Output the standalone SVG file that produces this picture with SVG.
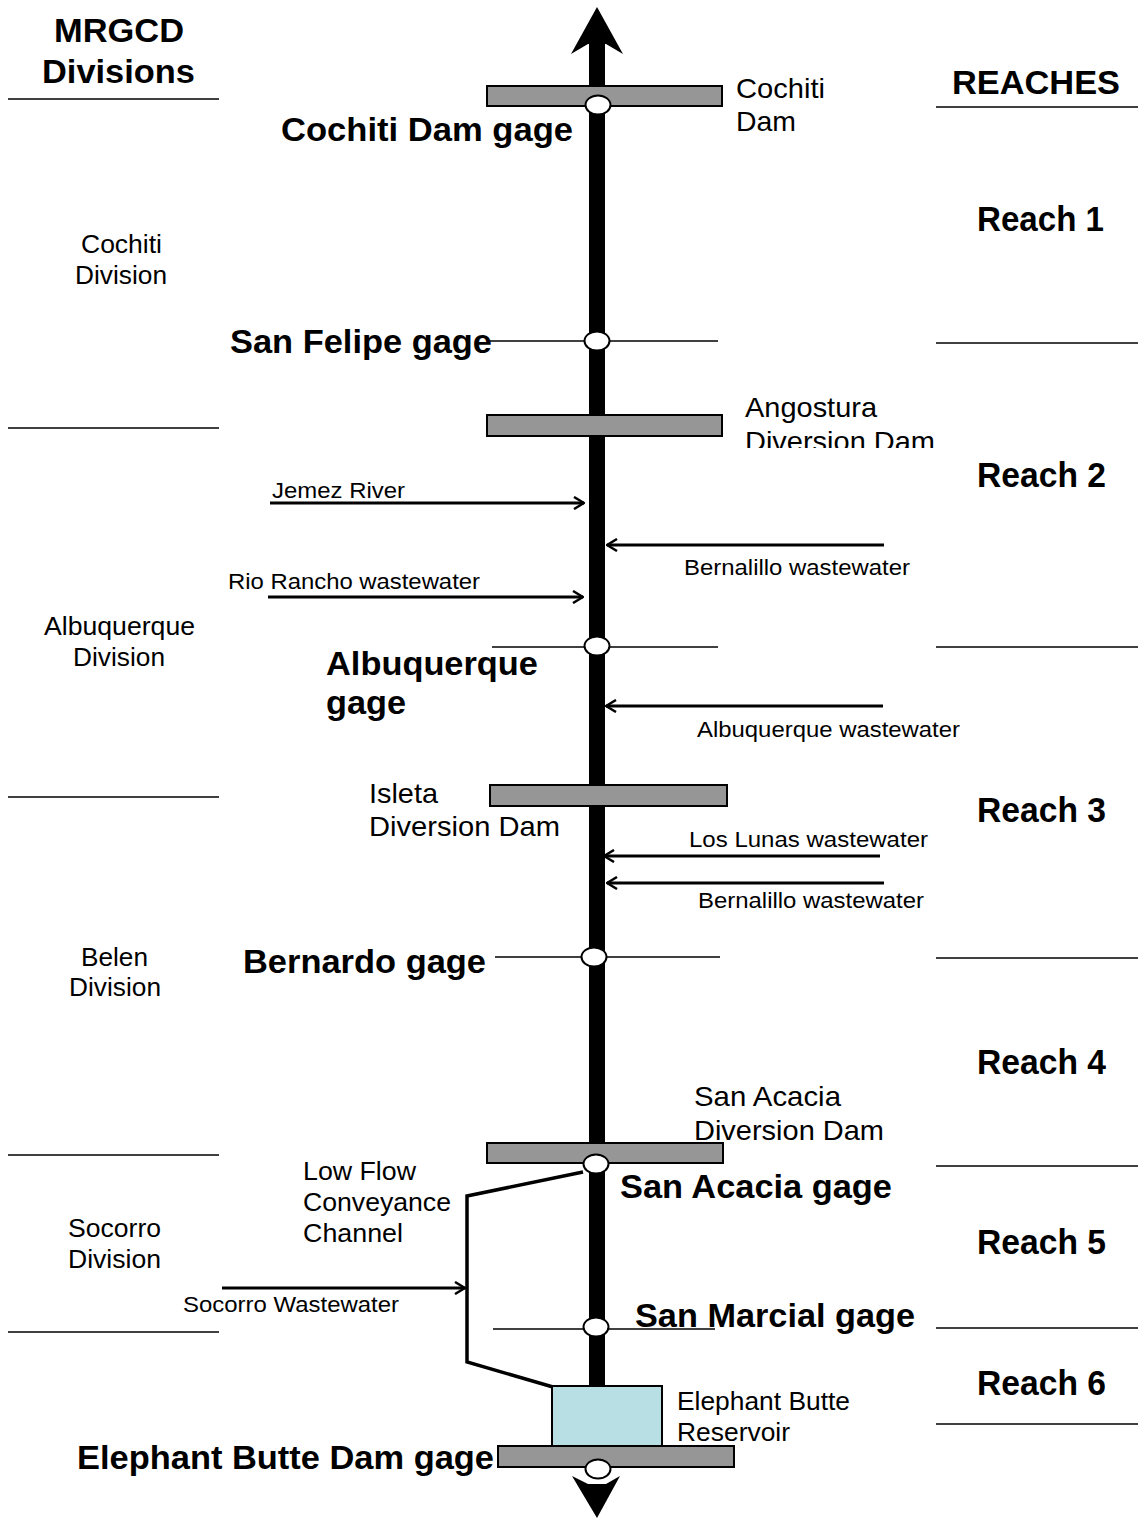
<svg xmlns="http://www.w3.org/2000/svg" width="1138" height="1519" viewBox="0 0 1138 1519">
  <style>
    text { font-family: "Liberation Sans", Arial, sans-serif; fill: #000; }
    .hdr { font-size: 34px; font-weight: bold; }
    .gage { font-size: 34px; font-weight: bold; }
    .reach { font-size: 35px; font-weight: bold; }
    .lbl { font-size: 28px; }
    .lbl2 { font-size: 26.5px; }
    .div { font-size: 25.5px; }
    .sm { font-size: 22px; }
    .rule { stroke: #000; stroke-width: 1.5; fill: none; }
    .trib { stroke: #000; stroke-width: 3; fill: none; marker-end: url(#open); }
    .dam { fill: #969696; stroke: #000; stroke-width: 2; }
    .gauge { fill: #fff; stroke: #000; stroke-width: 2; }
  </style>
  <defs>
    <marker id="open" viewBox="0 0 12 14" refX="11" refY="7" markerWidth="12" markerHeight="14" markerUnits="userSpaceOnUse" orient="auto">
      <path d="M1,1 L11,7 L1,13" fill="none" stroke="#000" stroke-width="2.5"/>
    </marker>
    <clipPath id="clipAng"><rect x="700" y="380" width="300" height="68"/></clipPath>
    <clipPath id="clipSA"><rect x="650" y="1070" width="300" height="71"/></clipPath>
  </defs>

  <!-- column headers and boundary rules -->
  <g id="headers">
    <text class="hdr" x="54" y="42" textLength="130" lengthAdjust="spacingAndGlyphs">MRGCD</text>
    <text class="hdr" x="42" y="83" textLength="153" lengthAdjust="spacingAndGlyphs">Divisions</text>
    <text class="hdr" x="952" y="94" textLength="168" lengthAdjust="spacingAndGlyphs">REACHES</text>
  </g>
  <g id="division-rules">
    <line class="rule" x1="8" y1="99" x2="219" y2="99"/>
    <line class="rule" x1="8" y1="428" x2="219" y2="428"/>
    <line class="rule" x1="8" y1="797" x2="219" y2="797"/>
    <line class="rule" x1="8" y1="1155" x2="219" y2="1155"/>
    <line class="rule" x1="8" y1="1332" x2="219" y2="1332"/>
  </g>
  <g id="reach-rules">
    <line class="rule" x1="936" y1="107" x2="1138" y2="107"/>
    <line class="rule" x1="936" y1="343" x2="1138" y2="343"/>
    <line class="rule" x1="936" y1="647" x2="1138" y2="647"/>
    <line class="rule" x1="936" y1="958" x2="1138" y2="958"/>
    <line class="rule" x1="936" y1="1166" x2="1138" y2="1166"/>
    <line class="rule" x1="936" y1="1328" x2="1138" y2="1328"/>
    <line class="rule" x1="936" y1="1424" x2="1138" y2="1424"/>
  </g>

  <!-- division names -->
  <g id="divisions">
    <text class="div" x="81" y="253" textLength="81" lengthAdjust="spacingAndGlyphs">Cochiti</text>
    <text class="div" x="75" y="284" textLength="92" lengthAdjust="spacingAndGlyphs">Division</text>
    <text class="div" x="44" y="635" textLength="151" lengthAdjust="spacingAndGlyphs">Albuquerque</text>
    <text class="div" x="73" y="666" textLength="92" lengthAdjust="spacingAndGlyphs">Division</text>
    <text class="div" x="81" y="966" textLength="67" lengthAdjust="spacingAndGlyphs">Belen</text>
    <text class="div" x="69" y="996" textLength="92" lengthAdjust="spacingAndGlyphs">Division</text>
    <text class="div" x="68" y="1237" textLength="93" lengthAdjust="spacingAndGlyphs">Socorro</text>
    <text class="div" x="68" y="1268" textLength="93" lengthAdjust="spacingAndGlyphs">Division</text>
  </g>

  <!-- reach names -->
  <g id="reaches">
    <text class="reach" x="977" y="231" textLength="127" lengthAdjust="spacingAndGlyphs">Reach 1</text>
    <text class="reach" x="977" y="487" textLength="129" lengthAdjust="spacingAndGlyphs">Reach 2</text>
    <text class="reach" x="977" y="822" textLength="129" lengthAdjust="spacingAndGlyphs">Reach 3</text>
    <text class="reach" x="977" y="1074" textLength="129" lengthAdjust="spacingAndGlyphs">Reach 4</text>
    <text class="reach" x="977" y="1254" textLength="129" lengthAdjust="spacingAndGlyphs">Reach 5</text>
    <text class="reach" x="977" y="1395" textLength="129" lengthAdjust="spacingAndGlyphs">Reach 6</text>
  </g>

  <!-- river, tributaries and conveyance channel -->
  <g id="connectors">
    <line x1="597" y1="40" x2="597" y2="1388" stroke="#000" stroke-width="16"/>
    <polygon points="597,7 623,54 606,44 588,44 571,54" fill="#000"/>
    <polygon points="597,1518 620,1476 606,1484 588,1484 572,1476" fill="#000"/>
    <line class="rule" x1="490" y1="341" x2="718" y2="341"/>
    <line class="rule" x1="492" y1="647" x2="718" y2="647"/>
    <line class="rule" x1="495" y1="957" x2="720" y2="957"/>
    <line class="rule" x1="493" y1="1329" x2="715" y2="1329"/>
    <line class="trib" x1="270" y1="503" x2="584" y2="503"/>
    <line class="trib" x1="268" y1="597" x2="583" y2="597"/>
    <line class="trib" x1="884" y1="545" x2="607" y2="545"/>
    <line class="trib" x1="883" y1="706" x2="606" y2="706"/>
    <line class="trib" x1="880" y1="856" x2="604" y2="856"/>
    <line class="trib" x1="884" y1="883" x2="607" y2="883"/>
    <line class="trib" x1="222" y1="1288" x2="465" y2="1288"/>
    <polyline points="583,1172 467,1196 467,1362 553,1387" fill="none" stroke="#000" stroke-width="3.5"/>
  </g>

  <!-- dams and reservoir -->
  <g id="cochiti-dam">
    <rect class="dam" x="487" y="86" width="235" height="20"/>
    <text class="lbl" x="736" y="98" textLength="89" lengthAdjust="spacingAndGlyphs">Cochiti</text>
    <text class="lbl" x="736" y="131" textLength="60" lengthAdjust="spacingAndGlyphs">Dam</text>
  </g>
  <g id="angostura-dam">
    <rect class="dam" x="487" y="415" width="235" height="21"/>
    <g clip-path="url(#clipAng)">
      <text class="lbl" x="745" y="417" textLength="132" lengthAdjust="spacingAndGlyphs">Angostura</text>
      <text class="lbl" x="745" y="451" textLength="190" lengthAdjust="spacingAndGlyphs">Diversion Dam</text>
    </g>
  </g>
  <g id="isleta-dam">
    <rect class="dam" x="490" y="785" width="237" height="21"/>
    <text class="lbl" x="369" y="803" textLength="69" lengthAdjust="spacingAndGlyphs">Isleta</text>
    <text class="lbl" x="369" y="836" textLength="191" lengthAdjust="spacingAndGlyphs">Diversion Dam</text>
  </g>
  <g id="san-acacia-dam">
    <rect class="dam" x="487" y="1143" width="236" height="20"/>
    <g clip-path="url(#clipSA)">
      <text class="lbl" x="694" y="1106" textLength="147" lengthAdjust="spacingAndGlyphs">San Acacia</text>
      <text class="lbl" x="694" y="1140" textLength="190" lengthAdjust="spacingAndGlyphs">Diversion Dam</text>
    </g>
  </g>
  <g id="elephant-butte-reservoir">
    <rect x="552" y="1386" width="110" height="60" fill="#b8e0e4" stroke="#000" stroke-width="2"/>
    <text class="lbl2" x="677" y="1410" textLength="173" lengthAdjust="spacingAndGlyphs">Elephant Butte</text>
    <text class="lbl2" x="677" y="1441" textLength="113" lengthAdjust="spacingAndGlyphs">Reservoir</text>
  </g>
  <g id="elephant-butte-dam">
    <rect class="dam" x="498" y="1446" width="236" height="21"/>
  </g>

  <!-- gages -->
  <g id="cochiti-dam-gage">
    <ellipse class="gauge" cx="598" cy="105" rx="12.5" ry="9.5"/>
    <text class="gage" x="281" y="141" textLength="292" lengthAdjust="spacingAndGlyphs">Cochiti Dam gage</text>
  </g>
  <g id="san-felipe-gage">
    <ellipse class="gauge" cx="597" cy="341" rx="12.5" ry="9.5"/>
    <text class="gage" x="230" y="353" textLength="262" lengthAdjust="spacingAndGlyphs">San Felipe gage</text>
  </g>
  <g id="albuquerque-gage">
    <ellipse class="gauge" cx="597" cy="646" rx="12.5" ry="9.5"/>
    <text class="gage" x="326" y="675" textLength="212" lengthAdjust="spacingAndGlyphs">Albuquerque</text>
    <text class="gage" x="326" y="714" textLength="80" lengthAdjust="spacingAndGlyphs">gage</text>
  </g>
  <g id="bernardo-gage">
    <ellipse class="gauge" cx="594" cy="957" rx="12.5" ry="9.5"/>
    <text class="gage" x="243" y="973" textLength="243" lengthAdjust="spacingAndGlyphs">Bernardo gage</text>
  </g>
  <g id="san-acacia-gage">
    <ellipse class="gauge" cx="596" cy="1164" rx="12.5" ry="9.5"/>
    <text class="gage" x="620" y="1198" textLength="272" lengthAdjust="spacingAndGlyphs">San Acacia gage</text>
  </g>
  <g id="san-marcial-gage">
    <ellipse class="gauge" cx="596" cy="1327" rx="12.5" ry="9.5"/>
    <text class="gage" x="635" y="1327" textLength="280" lengthAdjust="spacingAndGlyphs">San Marcial gage</text>
  </g>
  <g id="elephant-butte-dam-gage">
    <ellipse class="gauge" cx="598" cy="1469" rx="12.5" ry="9.5"/>
    <text class="gage" x="77" y="1469" textLength="417" lengthAdjust="spacingAndGlyphs">Elephant Butte Dam gage</text>
  </g>

  <!-- inflow labels -->
  <g id="inflows">
    <text class="sm" x="272" y="498" textLength="133" lengthAdjust="spacingAndGlyphs">Jemez River</text>
    <text class="sm" x="684" y="575" textLength="226" lengthAdjust="spacingAndGlyphs">Bernalillo wastewater</text>
    <text class="sm" x="228" y="589" textLength="252" lengthAdjust="spacingAndGlyphs">Rio Rancho wastewater</text>
    <text class="sm" x="697" y="737" textLength="263" lengthAdjust="spacingAndGlyphs">Albuquerque wastewater</text>
    <text class="sm" x="689" y="847" textLength="239" lengthAdjust="spacingAndGlyphs">Los Lunas wastewater</text>
    <text class="sm" x="698" y="908" textLength="226" lengthAdjust="spacingAndGlyphs">Bernalillo wastewater</text>
    <text class="sm" x="183" y="1312" textLength="216" lengthAdjust="spacingAndGlyphs">Socorro Wastewater</text>
  </g>
  <g id="low-flow-channel-label">
    <text class="lbl2" x="303" y="1180" textLength="113" lengthAdjust="spacingAndGlyphs">Low Flow</text>
    <text class="lbl2" x="303" y="1211" textLength="148" lengthAdjust="spacingAndGlyphs">Conveyance</text>
    <text class="lbl2" x="303" y="1242" textLength="100" lengthAdjust="spacingAndGlyphs">Channel</text>
  </g>
</svg>
